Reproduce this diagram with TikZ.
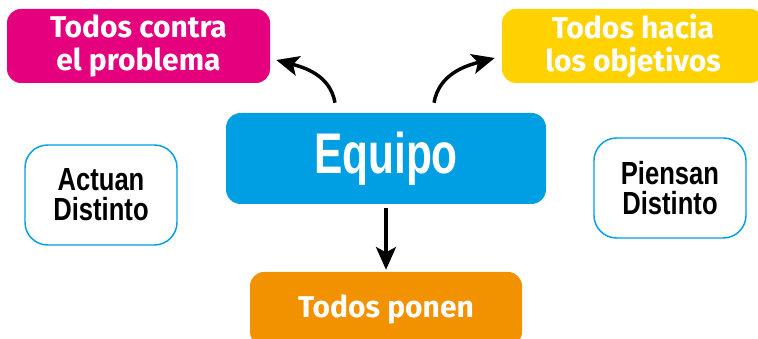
\documentclass[tikz,border=0pt]{standalone}
\usepackage{fontspec}
\setmainfont{Fira Sans}
\newfontfamily\titlefont[FakeStretch=0.74]{Liberation Sans}
\newfontfamily\ideafont[FakeStretch=0.8]{Liberation Sans}
\usetikzlibrary{arrows.meta, positioning}

\definecolor{problempink}{HTML}{E5007E}
\definecolor{goalyellow}{HTML}{FFD200}
\definecolor{teamblue}{HTML}{009FE3}
\definecolor{putorange}{HTML}{F39200}

\begin{document}
\begin{tikzpicture}[
        x=0.75pt, y=0.75pt,
        colbox/.style={rectangle, rounded corners=10.5pt, text=white, align=center, inner sep=0pt, minimum height=55.5pt, font=\fontsize{22.5}{24.75}\selectfont\bfseries},
        team/.style={rectangle, rounded corners=11pt, fill=teamblue, text=white, inner sep=0pt, minimum width=240pt, minimum height=68.25pt, font=\titlefont\bfseries\fontsize{43}{44}\selectfont},
        idea/.style={rectangle, draw=teamblue, line width=1.1pt, fill=white, rounded corners=17pt, align=center, inner sep=0pt, minimum width=114pt, minimum height=75pt, font=\ideafont\bfseries\fontsize{24}{22.5}\selectfont},
        arr/.style={-{Stealth[length=17pt, width=15pt, inset=4pt]}, line width=2.6pt}
    ]
    \clip (0,0) rectangle (758,339);

    \node[team] (equipo) at (386,180.5) {Equipo};
    \node[colbox, fill=problempink, minimum width=197.25pt] (problema) at (138.5,293) {Todos contra\\el problema};
    \node[colbox, fill=goalyellow, minimum width=196.5pt] (objetivos) at (633,293) {Todos hacia\\los objetivos};
    \node[colbox, fill=putorange, minimum width=204pt] (ponen) at (386,30) {Todos ponen};
    \node[idea] (actuan) at (101,144) {Actuan\\Distinto};
    \node[idea] (piensan) at (670,151) {Piensan\\Distinto};

    \draw[arr] ([shift={(-51,10)}]equipo.north) to[out=100, in=-15] ([shift={(6,-14)}]problema.east);
    \draw[arr] ([shift={(48,10)}]equipo.north) to[out=80, in=195] ([shift={(-7,-12)}]objetivos.west);
    \draw[arr, shorten <=3pt, shorten >=1.5pt] (equipo) -- (ponen);

\end{tikzpicture}
\end{document}
